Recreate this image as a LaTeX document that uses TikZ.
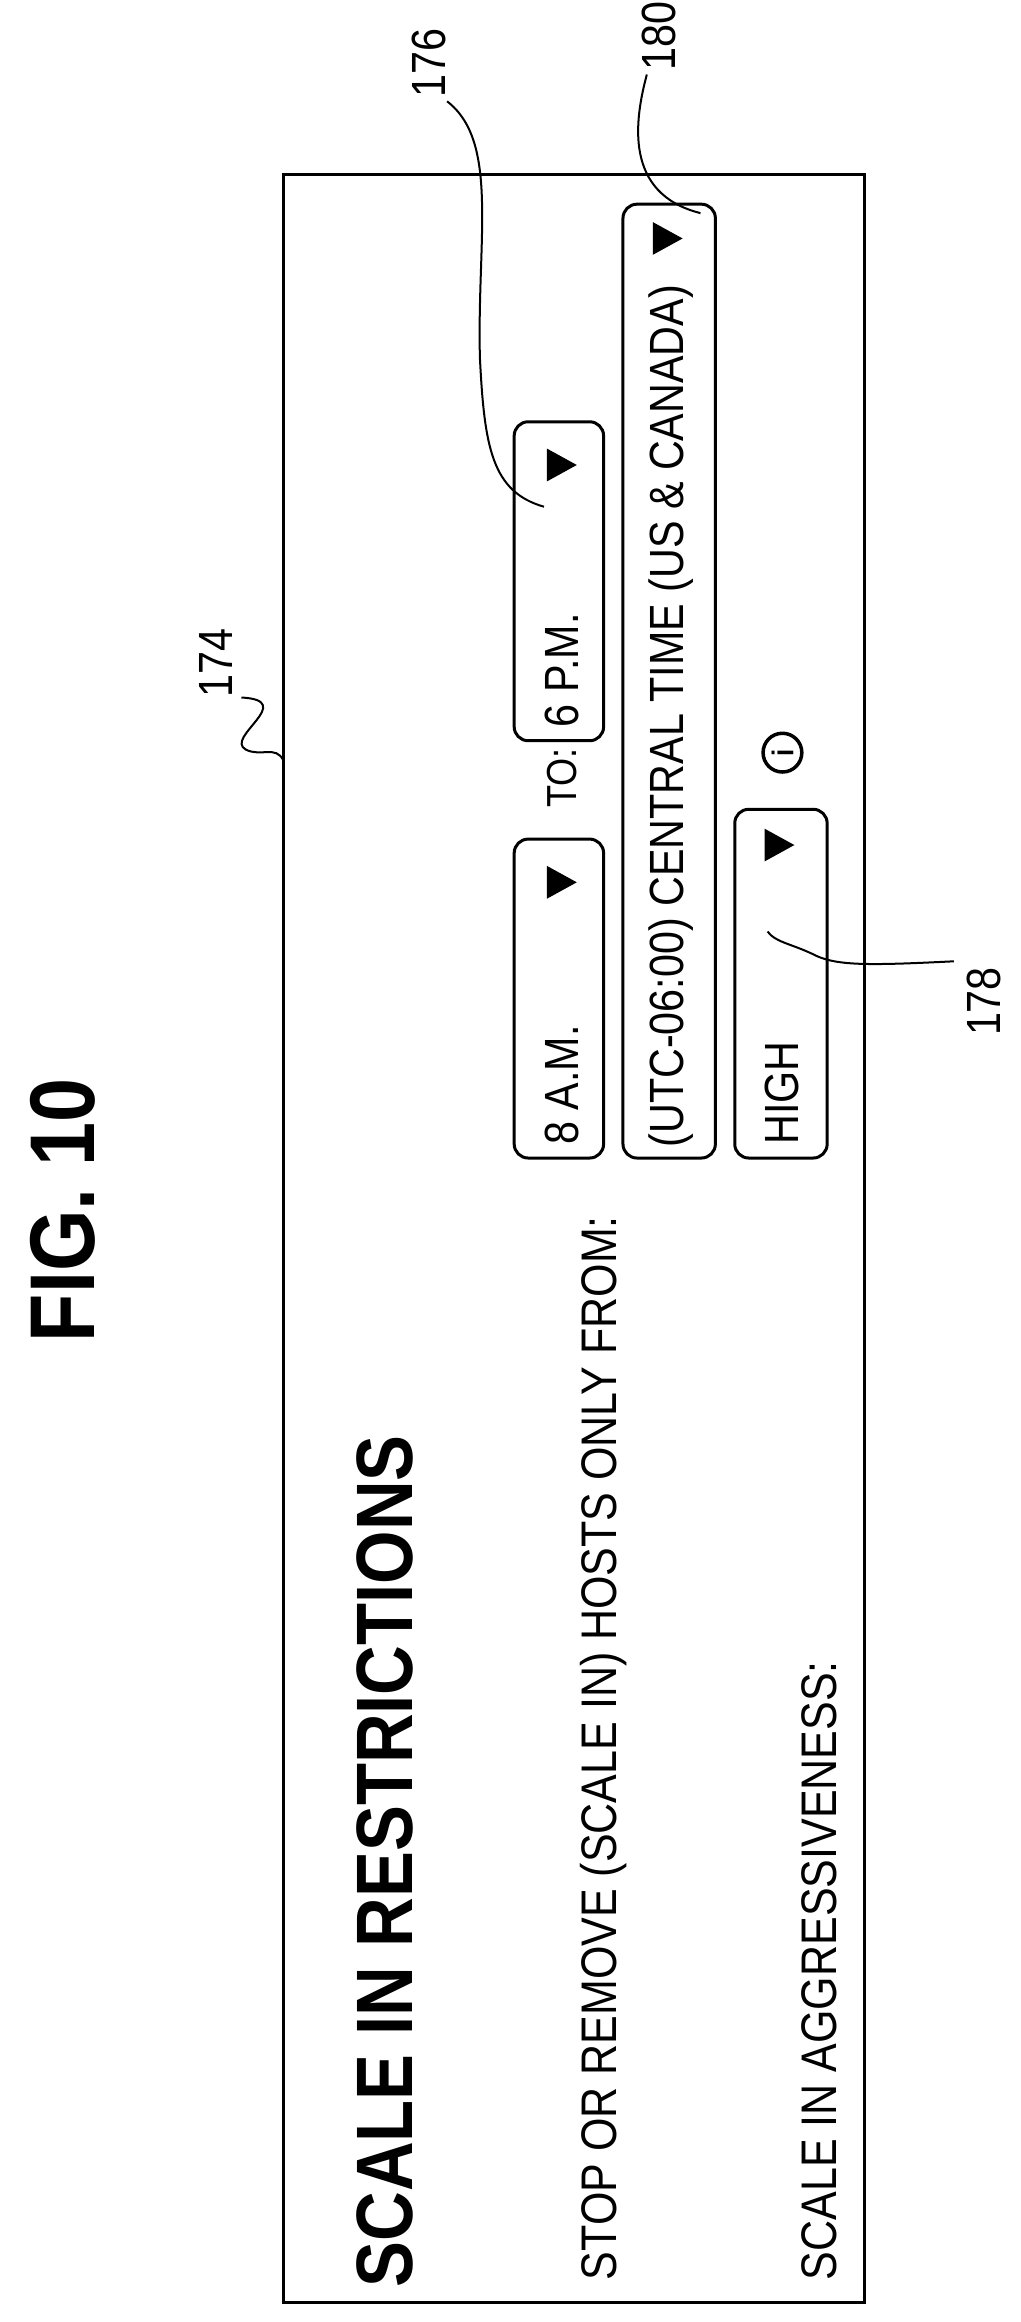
\documentclass[tikz,border=0pt]{standalone}
\usepackage{fontspec}
\setmainfont{Liberation Sans}[FakeStretch=0.86]
\begin{document}
\begin{tikzpicture}[x=1.4905pt,y=-1.4905pt,
  txt/.style={rotate=90,anchor=west,inner sep=0pt,font=\fontsize{50}{54}\selectfont},
  btxt/.style={txt,font=\fontsize{48}{52}\selectfont},
  lbl/.style={rotate=90,inner sep=0pt,font=\fontsize{48}{52}\selectfont},
  box/.style={draw,line width=3pt,rounded corners=14pt},
  tri/.style={fill=black},
  lead/.style={line width=2pt}]
\useasboundingbox (0,0) rectangle (685,1558);
\draw[line width=3pt] (190,117) rectangle (580,1545);
\node[rotate=90,font=\bfseries\fontsize{92}{96}\selectfont] (fig) at (42,812) {FIG. 10};
\node[txt,font=\bfseries\fontsize{80}{84}\selectfont] (title) at (258,1535) {SCALE IN RESTRICTIONS};
\node[txt] (stop) at (405,1530) {STOP OR REMOVE (SCALE IN) HOSTS ONLY FROM:};
\node[txt] (aggr) at (550,1530) {SCALE IN AGGRESSIVENESS:};
% 8 AM
\draw[box] (345,563) rectangle (405,777);
\node[btxt] (am) at (377,768) {8 A.M.};
\fill[tri] (367,581) -- (367,603) -- (387,592) -- cycle;
\node[txt,font=\fontsize{42}{46}\selectfont] (to) at (377,542) {TO:};
% 6 PM
\draw[box] (345,283) rectangle (405,497);
\node[btxt] (pm) at (377,488) {6 P.M.};
\fill[tri] (367,301) -- (367,323) -- (387,312) -- cycle;
% timezone
\draw[box] (418,137) rectangle (480,777);
\node[btxt] (tz) at (450,770) {(UTC-06:00) CENTRAL TIME (US \& CANADA)};
\fill[tri] (438,149) -- (438,171) -- (458,160) -- cycle;
% high
\draw[box] (493,543) rectangle (555,777);
\node[btxt] (high) at (525,768) {HIGH};
\fill[tri] (513,556) -- (513,578) -- (533,567) -- cycle;
% info icon
\draw[line width=3.5pt] (525,505) circle (13);
\node[rotate=90,inner sep=0pt,font=\bfseries\fontsize{30}{32}\selectfont] (info) at (525,505) {i};
% labels
\node[lbl] (l176) at (288,42) {176};
\draw[lead] (300,68) .. controls (335,95) and (320,160) .. (322,240) .. controls (325,300) and (330,330) .. (365,340);
\node[lbl] (l180) at (442,24) {180};
\draw[lead] (434,50) .. controls (426,80) and (418,130) .. (470,143);
\node[lbl] (l174) at (145,445) {174};
\draw[lead] (162,468) .. controls (200,470) and (150,495) .. (165,503) .. controls (175,508) and (185,500) .. (190,510);
\node[lbl] (l178) at (660,672) {178};
\draw[lead] (640,645) .. controls (580,648) and (560,648) .. (545,640) .. controls (530,633) and (520,632) .. (515,625);
\end{tikzpicture}
\end{document}
